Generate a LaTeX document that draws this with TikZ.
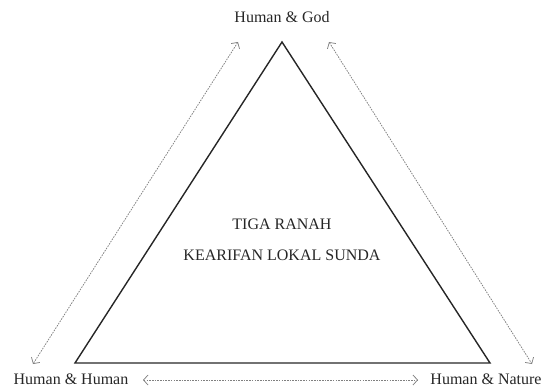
\documentclass[tikz,border=0pt]{standalone}
\usepackage{fontspec}
\setmainfont{Liberation Serif}
\usetikzlibrary{arrows.meta}
\begin{document}
\begin{tikzpicture}[x=1pt,y=-1pt,
  lbl/.style={font=\fontsize{16}{19}\selectfont, text=black!85, inner sep=0pt},
  rel/.style={draw=black!50, dash pattern=on 1.6pt off 1.1pt, line width=0.75pt,
    {Straight Barb[length=4.5pt,width=10pt]}-{Straight Barb[length=4.5pt,width=10pt]}},
  tri/.style={draw=black!85, line width=1.4pt, line join=miter}]
\useasboundingbox (0,0) rectangle (548,387);
\coordinate (top) at (282,42);
\coordinate (bl) at (75,363);
\coordinate (br) at (490,363);
\draw[tri] (top) -- (bl) -- (br) -- cycle;
\node[lbl] (god) at (282,17) {Human \& God};
\node[lbl] (hh) at (71,379.5) {Human \& Human};
\node[lbl] (hn) at (486,379.5) {Human \& Nature};
\node[lbl] (t1) at (282,224) {TIGA RANAH};
\node[lbl] (t2) at (282,255) {KEARIFAN LOKAL SUNDA};
\coordinate (la) at (238,42);
\coordinate (lb) at (33,364);
\coordinate (ra) at (329,42);
\coordinate (rb) at (532,364);
\coordinate (ba) at (143,380);
\coordinate (bb) at (418,380);
\draw[rel] (la) -- (lb);
\draw[rel] (ra) -- (rb);
\draw[rel] (ba) -- (bb);
\end{tikzpicture}
\end{document}
